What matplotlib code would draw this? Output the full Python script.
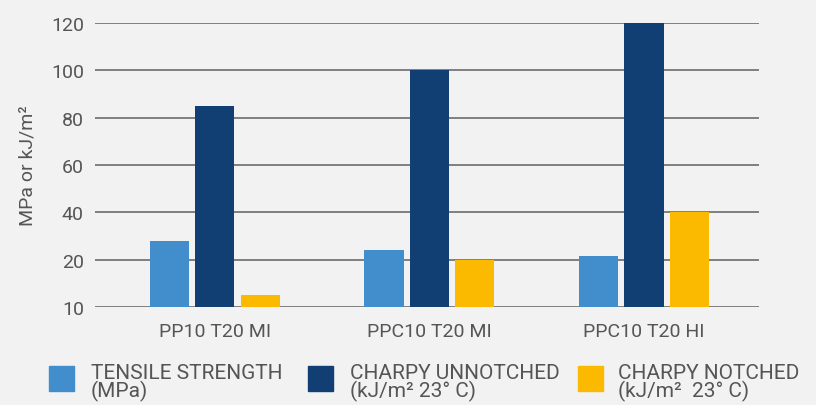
import numpy as np
import matplotlib
matplotlib.use('Agg')
import matplotlib.pyplot as plt
from matplotlib.patches import Rectangle

categories = ['PP10 T20 MI', 'PPC10 T20 MI', 'PPC10 T20 HI']
tensile = [28, 24, 21.5]
unnotched = [85, 100, 120]
notched = [5, 20, 40]
tick_pos = [0, 20, 40, 60, 80, 100, 120]
tick_labels = ['10', '20', '40', '60', '80', '100', '120']
series_names = ['TENSILE STRENGTH\n(MPa)', 'CHARPY UNNOTCHED\n(kJ/m² 23° C)', 'CHARPY NOTCHED\n(kJ/m²  23° C)']
colors = ['#428dcb', '#123f73', '#fbb900']

bg = '#f2f2f2'
plt.rcParams['font.family'] = ['Roboto', 'DejaVu Sans']

fig = plt.figure(figsize=(8.16, 4.06), dpi=100, facecolor=bg)
ax = fig.add_axes([95/816, 98/406, 664/816, 284/406], facecolor=bg)

x = np.arange(len(categories))
w = 0.182
step = 0.212
for i, vals in enumerate([tensile, unnotched, notched]):
    ax.bar(x + (i-1)*step, vals, width=w, color=colors[i], zorder=3)

ax.set_xlim(-0.559, 2.536)
ax.set_ylim(0, 120)
ax.set_yticks(tick_pos)
ax.set_yticklabels(tick_labels)
ax.set_xticks(x)
ax.set_xticklabels(categories)
ax.yaxis.grid(True, color='#777777', linewidth=1.3, zorder=0)
for s in ax.spines.values():
    s.set_visible(False)
ax.tick_params(axis='both', length=0, labelsize=14, colors='#555555')
ax.tick_params(axis='y', pad=8)
ax.tick_params(axis='x', pad=11)
ax.set_ylabel('MPa or kJ/m²', fontsize=14, color='#555555', labelpad=10)

# legend
sq_x = [49, 308, 578]
txt_x = [91, 350, 618]
for i in range(3):
    fig.add_artist(Rectangle((sq_x[i]/816, (406-392)/406), 25/816, 25/406,
                             transform=fig.transFigure, color=colors[i]))
    fig.text(txt_x[i]/816, (406-383)/406, series_names[i], fontsize=15,
             color='#555555', va='center', ha='left', linespacing=0.9)

fig.savefig('out.png', dpi=100, facecolor=bg)
